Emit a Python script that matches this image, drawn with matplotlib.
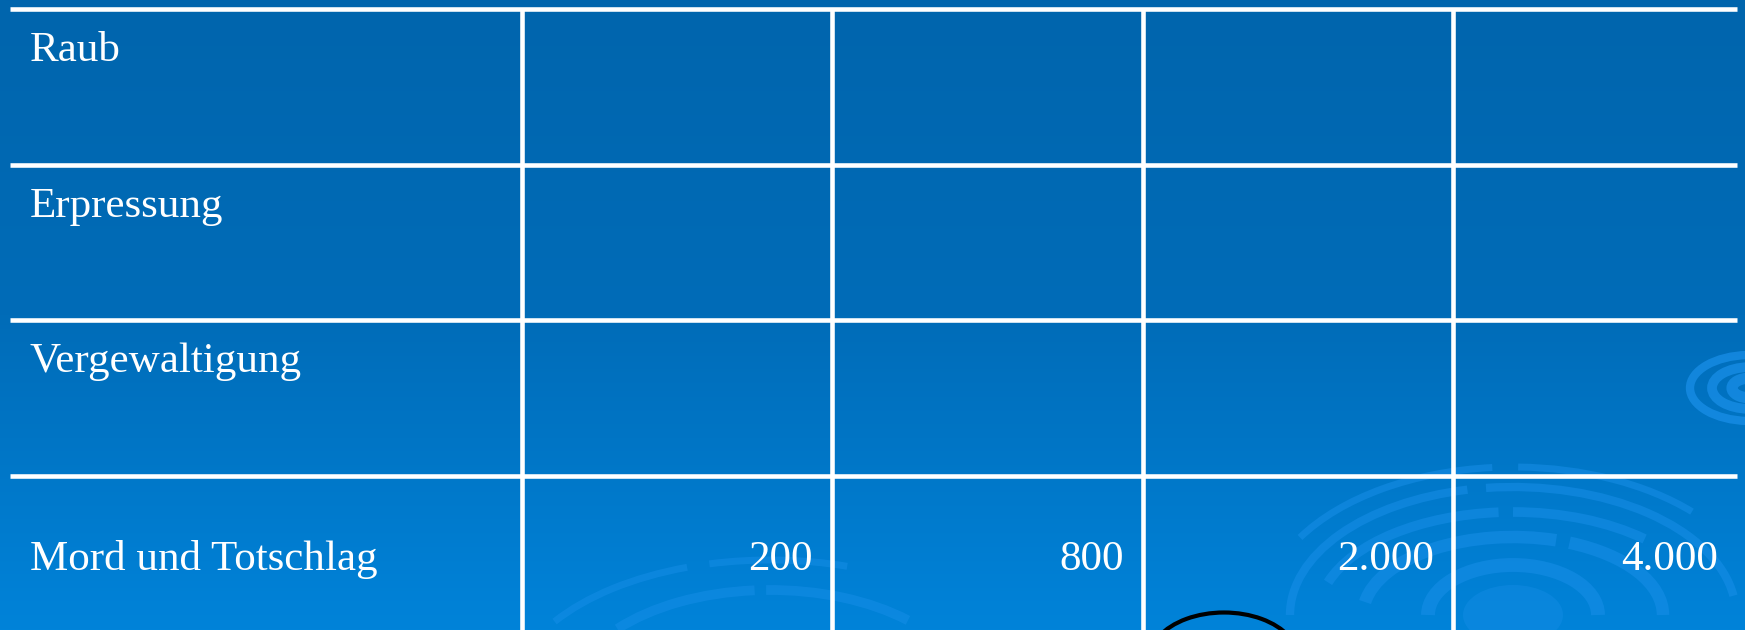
import numpy as np
import matplotlib
matplotlib.use("Agg")
import matplotlib.pyplot as plt
from matplotlib.patches import Arc, Ellipse
from matplotlib.colors import LinearSegmentedColormap

# Tabellendaten
delikte = ["Raub", "Erpressung", "Vergewaltigung", "Mord und Totschlag"]
n_spalten = 4
# nur die letzte Zeile ist ausgefuellt
werte_mord = [200, 800, 2000, 4000]
werte = [[None] * n_spalten, [None] * n_spalten, [None] * n_spalten, werte_mord]


def fmt(v):
    # deutsches Tausendertrennzeichen
    return "{:,}".format(v).replace(",", ".")


W, H = 1745, 630
fig = plt.figure(figsize=(W / 100, H / 100), dpi=100)
ax = fig.add_axes([0, 0, 1, 1])
ax.set_xlim(0, W)
ax.set_ylim(H, 0)
ax.axis("off")

# Hintergrund: blauer Verlauf
cmap = LinearSegmentedColormap.from_list("bg", ["#0065ad", "#006cb8", "#0083d9"])
grad = np.linspace(0, 1, 256).reshape(-1, 1)
ax.imshow(grad, cmap=cmap, extent=[0, W, H, 0], aspect="auto", zorder=0)

# dekorative Ringe (y-Achse invertiert -> obere Boegen bei 180..360 Grad)
ring = "#1a90ea"
cx, cy = 1513, 615
ax.add_patch(Ellipse((cx, cy), 100, 60, color=ring, alpha=0.35, lw=0, zorder=1))
for hw, hh, t1, t2, lw in [(85, 50, 180, 360, 10), (150, 78, 185, 300, 9), (150, 78, 308, 360, 9),
                           (195, 103, 190, 262, 7), (195, 103, 270, 330, 7),
                           (223, 128, 180, 250, 6), (223, 128, 258, 355, 6),
                           (250, 148, 200, 262, 5), (250, 148, 272, 330, 5)]:
    ax.add_patch(Arc((cx, cy), 2 * hw, 2 * hh, theta1=t1, theta2=t2,
                     color=ring, lw=lw, alpha=0.5, zorder=1))
for hw, hh, t1, t2, lw in [(260, 140, 200, 238, 5), (260, 140, 246, 300, 5),
                           (200, 110, 205, 262, 7), (200, 110, 268, 330, 7)]:
    ax.add_patch(Arc((770, 700), 2 * hw, 2 * hh, theta1=t1, theta2=t2,
                     color=ring, lw=lw, alpha=0.45, zorder=1))
for r, lw in [(60, 6), (38, 7), (18, 8)]:
    ax.add_patch(Arc((1750, 388), 2 * r, 1.1 * r, theta1=95, theta2=265,
                     color=ring, lw=lw, alpha=0.7, zorder=1))
ax.add_patch(Arc((1224, 660), 150, 95, theta1=200, theta2=340,
                 color="black", lw=3, zorder=1))

# Tabellengitter
x0, x1 = 10, 1737
col_x = [522, 832, 1143, 1453]
row_y = [9, 165, 320, 476]
ax.hlines(row_y, x0, x1, color="white", lw=3.3, zorder=2)
ax.vlines(col_x, row_y[0] - 1.5, H, color="white", lw=3.3, zorder=2)

rechts = col_x[1:] + [x1]
font = dict(family=["Liberation Serif", "DejaVu Serif"], fontsize=31, color="white", zorder=3)
for i, name in enumerate(delikte):
    if i < len(delikte) - 1:
        yb = row_y[i] + 52
    else:
        yb = 570
    ax.text(30, yb, name, ha="left", va="baseline", **font)
    for j, v in enumerate(werte[i]):
        if v is not None:
            ax.text(rechts[j] - 19, yb, fmt(v), ha="right", va="baseline", **font)

fig.savefig("out.png", dpi=100)
